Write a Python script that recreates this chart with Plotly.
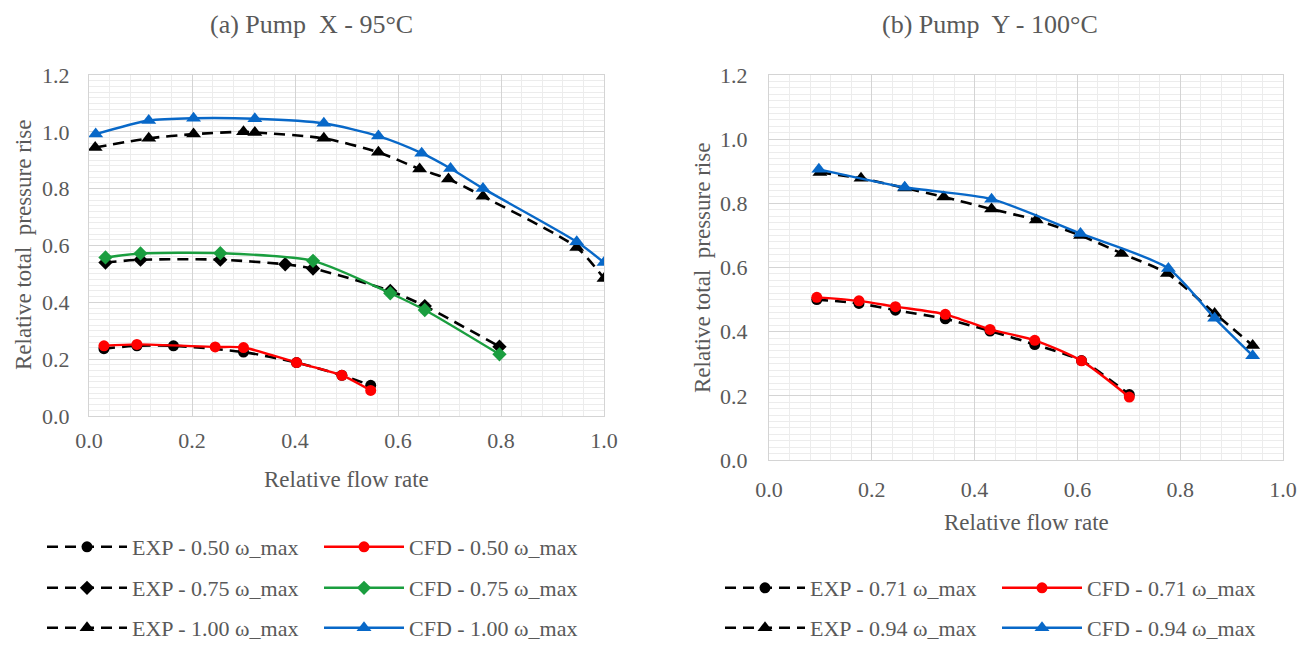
import plotly.graph_objects as go

# ---------------- Data: (a) Pump X - 95°C ----------------
a_exp050_x = [0.029, 0.093, 0.164, 0.300, 0.403, 0.491, 0.547]
a_exp050_y = [0.237, 0.247, 0.247, 0.225, 0.188, 0.143, 0.108]
a_cfd050_x = [0.029, 0.093, 0.245, 0.300, 0.403, 0.491, 0.547]
a_cfd050_y = [0.247, 0.252, 0.243, 0.241, 0.188, 0.143, 0.090]

a_exp075_x = [0.032, 0.100, 0.255, 0.381, 0.435, 0.585, 0.652, 0.797]
a_exp075_y = [0.540, 0.550, 0.550, 0.534, 0.519, 0.440, 0.387, 0.244]
a_cfd075_x = [0.032, 0.100, 0.255, 0.435, 0.585, 0.652, 0.797]
a_cfd075_y = [0.558, 0.572, 0.573, 0.546, 0.432, 0.373, 0.217]

a_exp100_x = [0.012, 0.116, 0.203, 0.300, 0.322, 0.456, 0.562, 0.642, 0.698, 0.765, 0.947, 1.000]
a_exp100_y = [0.945, 0.977, 0.992, 1.000, 0.998, 0.977, 0.928, 0.869, 0.834, 0.773, 0.593, 0.484]
a_cfd100_x = [0.013, 0.116, 0.203, 0.322, 0.456, 0.562, 0.646, 0.702, 0.765, 0.947, 1.000]
a_cfd100_y = [0.992, 1.040, 1.048, 1.046, 1.030, 0.985, 0.925, 0.871, 0.801, 0.613, 0.540]

# ---------------- Data: (b) Pump Y - 100°C ----------------
b_exp071_x = [0.093, 0.175, 0.246, 0.343, 0.430, 0.517, 0.608, 0.701]
b_exp071_y = [0.500, 0.488, 0.467, 0.440, 0.402, 0.360, 0.310, 0.204]
b_cfd071_x = [0.093, 0.175, 0.246, 0.343, 0.430, 0.517, 0.608, 0.701]
b_cfd071_y = [0.507, 0.496, 0.478, 0.454, 0.407, 0.373, 0.309, 0.196]

b_exp094_x = [0.099, 0.179, 0.264, 0.340, 0.433, 0.520, 0.606, 0.686, 0.775, 0.867, 0.941]
b_exp094_y = [0.896, 0.878, 0.848, 0.820, 0.782, 0.748, 0.700, 0.644, 0.581, 0.457, 0.357]
b_cfd094_x = [0.097, 0.264, 0.433, 0.606, 0.777, 0.867, 0.941]
b_cfd094_y = [0.906, 0.850, 0.813, 0.706, 0.597, 0.442, 0.325]

x_ticks = [0.0, 0.2, 0.4, 0.6, 0.8, 1.0]
y_ticks = [0.0, 0.2, 0.4, 0.6, 0.8, 1.0, 1.2]

# ---------------- Styles ----------------
FONT = "Liberation Serif"
TXT = "#595959"
RED = "#ff0000"
GREEN = "#1a9e3f"
BLUE = "#0868c8"
W, H = 1311, 645


def px_x(p):
    return p / W


def px_y(p):
    return 1 - p / H


fig = go.Figure()


def add(x, y, name, color, symbol, msize, dashed, xa, ya, legend):
    fig.add_trace(go.Scatter(
        x=x, y=y, name=name, mode="lines+markers",
        line=dict(color=color, width=2.6 if dashed else 2.4,
                  dash="11px,7px" if dashed else "solid",
                  shape="spline", smoothing=0.7),
        marker=dict(symbol=symbol, size=msize, color=color),
        xaxis=xa, yaxis=ya, legend=legend,
    ))


# Panel (a)
add(a_exp050_x, a_exp050_y, "EXP - 0.50 ω_max", "black", "circle", 11, True, "x", "y", "legend")
add(a_cfd050_x, a_cfd050_y, "CFD - 0.50 ω_max", RED, "circle", 11, False, "x", "y", "legend")
add(a_exp075_x, a_exp075_y, "EXP - 0.75 ω_max", "black", "diamond", 11, True, "x", "y", "legend2")
add(a_cfd075_x, a_cfd075_y, "CFD - 0.75 ω_max", GREEN, "diamond", 11, False, "x", "y", "legend2")
add(a_exp100_x, a_exp100_y, "EXP - 1.00 ω_max", "black", "triangle-up", 13, True, "x", "y", "legend3")
add(a_cfd100_x, a_cfd100_y, "CFD - 1.00 ω_max", BLUE, "triangle-up", 13, False, "x", "y", "legend3")

# Panel (b)
add(b_exp071_x, b_exp071_y, "EXP - 0.71 ω_max", "black", "circle", 11, True, "x2", "y2", "legend4")
add(b_cfd071_x, b_cfd071_y, "CFD - 0.71 ω_max", RED, "circle", 11, False, "x2", "y2", "legend4")
add(b_exp094_x, b_exp094_y, "EXP - 0.94 ω_max", "black", "triangle-up", 13, True, "x2", "y2", "legend5")
add(b_cfd094_x, b_cfd094_y, "CFD - 0.94 ω_max", BLUE, "triangle-up", 13, False, "x2", "y2", "legend5")

axis_common = dict(
    showgrid=True, gridcolor="#d4d4d4", gridwidth=1.2,
    showline=True, linecolor="#d4d4d4", linewidth=1.2, mirror=True,
    zeroline=False, ticks="", tickfont=dict(family=FONT, size=22, color=TXT),
    tickformat=".1f", automargin=False,
)
minor_x = dict(dtick=0.04, showgrid=True, gridcolor="#ececec", gridwidth=1)
minor_y = dict(dtick=0.02, showgrid=True, gridcolor="#ececec", gridwidth=1)

fig.update_layout(
    width=W, height=H,
    margin=dict(l=0, r=0, t=0, b=0, autoexpand=False),
    paper_bgcolor="white", plot_bgcolor="white",
    font=dict(family=FONT, color=TXT),
    xaxis=dict(domain=[px_x(89), px_x(604)], range=[0, 1], tickvals=x_ticks,
               minor=minor_x, anchor="y", ticklabelstandoff=4, **axis_common),
    yaxis=dict(domain=[px_y(416), px_y(75)], range=[0, 1.2], tickvals=y_ticks,
               minor=minor_y, anchor="x", ticklabelstandoff=14, **axis_common),
    xaxis2=dict(domain=[px_x(769), px_x(1283)], range=[0, 1], tickvals=x_ticks,
                minor=minor_x, anchor="y2", ticklabelstandoff=9, **axis_common),
    yaxis2=dict(domain=[px_y(460), px_y(75)], range=[0, 1.2], tickvals=y_ticks,
                minor=minor_y, anchor="x2", ticklabelstandoff=16, **axis_common),
)

leg_common = dict(orientation="h", xanchor="left", yanchor="middle",
                  entrywidth=182, entrywidthmode="pixels",
                  font=dict(family=FONT, size=22, color=TXT),
                  bgcolor="rgba(0,0,0,0)", itemwidth=80, tracegroupgap=0)
fig.update_layout(
    legend=dict(x=px_x(42), y=px_y(547), **leg_common),
    legend2=dict(x=px_x(42), y=px_y(588), **leg_common),
    legend3=dict(x=px_x(42), y=px_y(628), **leg_common),
    legend4=dict(x=px_x(720), y=px_y(588), **leg_common),
    legend5=dict(x=px_x(720), y=px_y(628), **leg_common),
)

ann = []
ann.append(dict(text="(a) Pump  X - 95°C", x=px_x(311), y=px_y(24), font=dict(size=26)))
ann.append(dict(text="(b) Pump  Y - 100°C", x=px_x(990), y=px_y(24), font=dict(size=26)))
ann.append(dict(text="Relative flow rate", x=px_x(346), y=px_y(479), font=dict(size=23)))
ann.append(dict(text="Relative flow rate", x=px_x(1026), y=px_y(522), font=dict(size=23)))
ann.append(dict(text="Relative total  pressure rise", x=px_x(23), y=px_y(245),
                textangle=-90, font=dict(size=23)))
ann.append(dict(text="Relative total  pressure rise", x=px_x(703), y=px_y(268),
                textangle=-90, font=dict(size=23)))
for a in ann:
    a.update(xref="paper", yref="paper", showarrow=False, xanchor="center", yanchor="middle")
    a["font"].update(family=FONT, color=TXT)
fig.update_layout(annotations=ann)

fig.write_html("out.html")
